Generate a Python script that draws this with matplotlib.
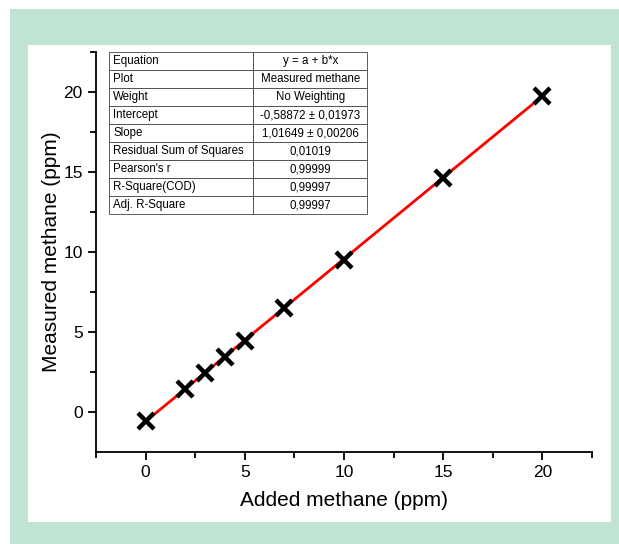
import matplotlib.pyplot as plt
from matplotlib.patches import Rectangle

plt.rcParams['font.family'] = ['Liberation Sans', 'DejaVu Sans']

# calibration data
added = [0, 2, 3, 4, 5, 7, 10, 15, 20]
measured = [-0.57, 1.45, 2.42, 3.42, 4.42, 6.48, 9.5, 14.65, 19.77]

# linear fit results
intercept = -0.58872
slope = 1.01649
fit_x = [0, 20]

table_labels = ['Equation', 'Plot', 'Weight', 'Intercept', 'Slope',
                'Residual Sum of Squares', "Pearson's r", 'R-Square(COD)',
                'Adj. R-Square']
table_values = ['y = a + b*x', 'Measured methane', 'No Weighting',
                '-0,58872 \u00b1 0,01973', '1,01649 \u00b1 0,00206',
                '0,01019', '0,99999', '0,99997', '0,99997']

fig = plt.figure(figsize=(6.19, 5.44), dpi=100)
fig.patch.set_facecolor('white')

W, H = 619, 544
# green frame and white panel
fig.patches.append(Rectangle((10 / W, 0), 1 - 10 / W, 1 - 9 / H,
                             transform=fig.transFigure, facecolor='#c0e3d4',
                             edgecolor='none', zorder=-2))
fig.patches.append(Rectangle((28 / W, 1 - 522 / H), (611 - 28) / W, (522 - 45) / H,
                             transform=fig.transFigure, facecolor='white',
                             edgecolor='none', zorder=-1))

ax = fig.add_axes([96 / W, 1 - 452 / H, (592 - 96) / W, (452 - 52) / H])
ax.set_facecolor('none')

fit_y = [intercept + slope * x for x in fit_x]
ax.plot(fit_x, fit_y, color='red', lw=2, zorder=2)
ax.plot(added, measured, linestyle='none', marker='x', color='black',
        markersize=11, mew=3.2, zorder=3)

ax.set_xlim(-2.5, 22.5)
ax.set_ylim(-2.5, 22.5)
ax.set_xticks([0, 5, 10, 15, 20])
ax.set_yticks([0, 5, 10, 15, 20])
ax.set_xticks([-2.5, 2.5, 7.5, 12.5, 17.5, 22.5], minor=True)
ax.set_yticks([2.5, 7.5, 12.5, 17.5, 22.5], minor=True)

for s in ['top', 'right']:
    ax.spines[s].set_visible(False)
for s in ['left', 'bottom']:
    ax.spines[s].set_linewidth(1.3)

ax.tick_params(which='major', length=6, width=1.3, labelsize=12.5, direction='out')
ax.tick_params(which='minor', length=4, width=1.3, direction='out')

ax.set_xlabel('Added methane (ppm)', fontsize=15, labelpad=8)
ax.set_ylabel('Measured methane (ppm)', fontsize=15, labelpad=2)

# fit summary table
cells = [[a, b] for a, b in zip(table_labels, table_values)]
tbl = ax.table(cellText=cells, colWidths=[0.56, 0.44],
               bbox=[13 / 496, 0.595, 258 / 496, 0.405])
tbl.auto_set_font_size(False)
tbl.set_fontsize(8.3)
for (r, c), cell in tbl.get_celld().items():
    cell.set_linewidth(0.6)
    cell.set_edgecolor('#444444')
    cell.PAD = 0.03
    txt = cell.get_text()
    txt.set_ha('left' if c == 0 else 'center')
    txt.set_va('center')

fig.savefig('out.png', dpi=100)
